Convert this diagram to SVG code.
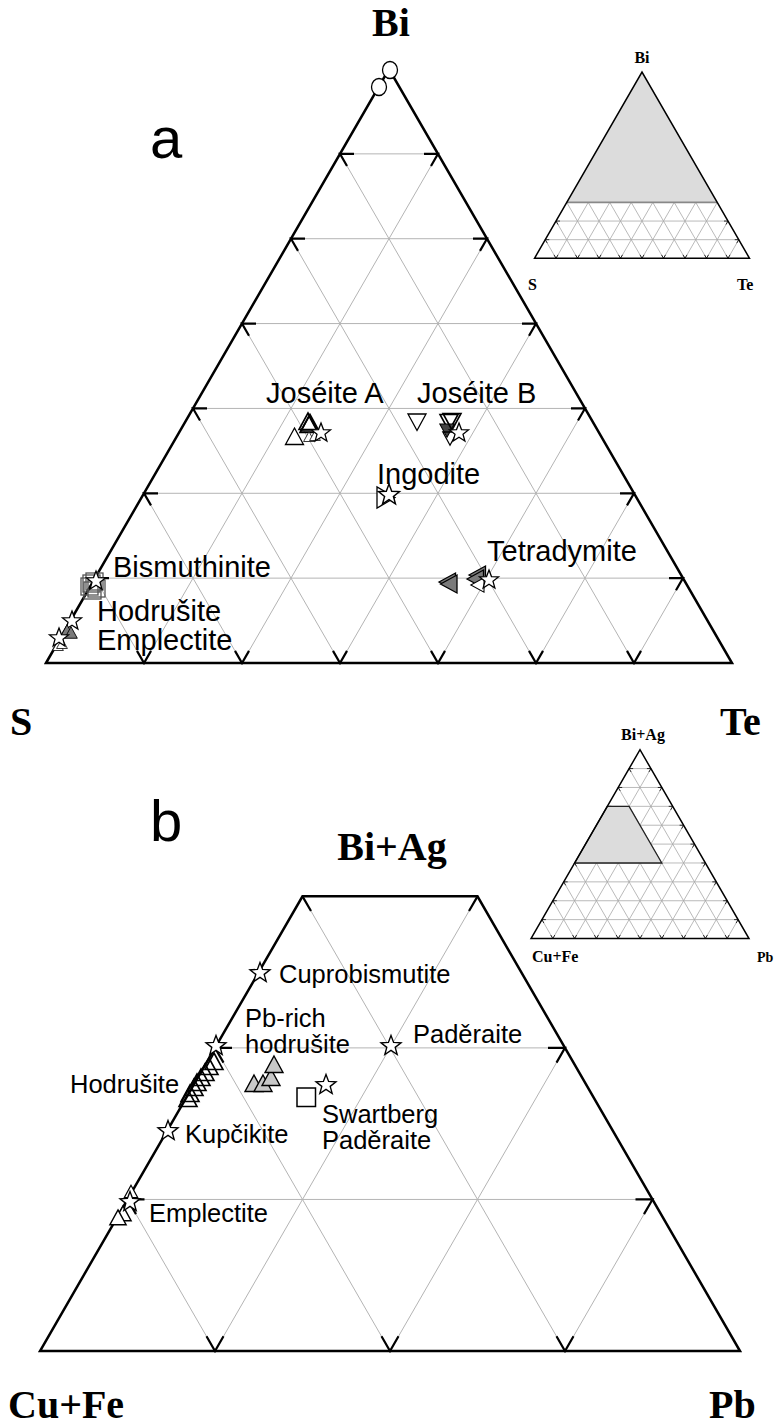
<svg xmlns="http://www.w3.org/2000/svg" xmlns:xlink="http://www.w3.org/1999/xlink" width="775" height="1426" viewBox="0 0 775 1426">
<style>
.grid{fill:none;stroke:#b4b4b4;stroke-width:1}
.tick{fill:none;stroke:#000;stroke-width:2.2;stroke-linejoin:miter}
.outline{fill:none;stroke:#000;stroke-width:2.5;stroke-linejoin:miter}
.igrid{fill:none;stroke:#a8a8a8;stroke-width:0.8}
.itick{fill:none;stroke:#000;stroke-width:0.8}
.ioutline{fill:none;stroke:#000;stroke-width:1.5}
.big{font-family:"Liberation Serif","Times New Roman",serif;font-weight:bold;font-size:40px;fill:#000}
.small{font-family:"Liberation Serif","Times New Roman",serif;font-weight:bold;font-size:16px;fill:#000}
.panel{font-family:"Liberation Sans",Arial,sans-serif;font-size:58px;fill:#000}
.la{font-family:"Liberation Sans",Arial,sans-serif;font-size:29px;fill:#000}
.lb{font-family:"Liberation Sans",Arial,sans-serif;font-size:25.5px;fill:#000}
.open{fill:#fff;stroke:#000;stroke-width:1.3}
.hollow{fill:none;stroke:#000;stroke-width:1.6}
.dark{fill:#444;stroke:#000;stroke-width:1.3}
.gray{fill:#7a7a7a;stroke:#000;stroke-width:1.3}
.lgray{fill:#c8c8c8;stroke:#000;stroke-width:1.4}
.sq{fill:none;stroke:#555;stroke-width:1.3}
.star{fill:#fff;stroke:#000;stroke-width:1.3}
</style>
<defs>
<path id="st" d="M0,-10 L2.47,-3.4 L9.51,-3.09 L4,1.3 L5.88,8.09 L0,4.2 L-5.88,8.09 L-4,1.3 L-9.51,-3.09 L-2.47,-3.4 Z"/>
<path id="tu" d="M0,-9 L9,7.5 L-9,7.5 Z"/>
<path id="td" d="M0,9 L9,-7.5 L-9,-7.5 Z"/>
<path id="tl" d="M-9,0 L7.5,-9 L7.5,9 Z"/>
</defs>

<!-- ============ Panel a ============ -->
<g id="panel-a-frame">
<path class="grid" d="M340 153.86 H438 M291 238.71 H487 M242 323.57 H536 M193 408.43 H585 M144 493.29 H634 M95 578.14 H683
M144 663 L95 578.14 M242 663 L144 493.29 M340 663 L193 408.43 M438 663 L242 323.57 M536 663 L291 238.71 M634 663 L340 153.86
M144 663 L438 153.86 M242 663 L487 238.71 M340 663 L536 323.57 M438 663 L585 408.43 M536 663 L634 493.29 M634 663 L683 578.14"/>
<path class="outline" d="M46 663 L389 69 L732 663 Z"/>
<path class="tick" d="M354 153.86 H340 L347 165.98 M305 238.71 H291 L298 250.83 M256 323.57 H242 L249 335.69 M207 408.43 H193 L200 420.55 M158 493.29 H144 L151 505.41 M109 578.14 H95 L102 590.26
M424 153.86 H438 L431 165.98 M473 238.71 H487 L480 250.83 M522 323.57 H536 L529 335.69 M571 408.43 H585 L578 420.55 M620 493.29 H634 L627 505.41 M669 578.14 H683 L676 590.26
M137 650.88 L144 663 L151 650.88 M235 650.88 L242 663 L249 650.88 M333 650.88 L340 663 L347 650.88 M431 650.88 L438 663 L445 650.88 M529 650.88 L536 663 L543 650.88 M627 650.88 L634 663 L641 650.88"/>
</g>
<text id="label-a" class="panel" x="150" y="158">a</text>
<text id="apex-Bi" class="big" x="391" y="36" text-anchor="middle">Bi</text>
<text id="corner-S" class="big" x="10" y="735">S</text>
<text id="corner-Te" class="big" x="720" y="735">Te</text>

<g id="inset-a">
<path class="igrid" d="M545.25 239.68 H738.75 M556 221.06 H728
M556 258.3 L545.25 239.68 M577.5 258.3 L556 221.06 M599 258.3 L566.75 202.44 M620.5 258.3 L577.5 183.82 M642 258.3 L588.25 165.2 M663.5 258.3 L599 146.58 M685 258.3 L609.75 127.96 M706.5 258.3 L620.5 109.34 M728 258.3 L631.25 90.72
M556 258.3 L652.75 90.72 M577.5 258.3 L663.5 109.34 M599 258.3 L674.25 127.96 M620.5 258.3 L685 146.58 M642 258.3 L695.75 165.2 M663.5 258.3 L706.5 183.82 M685 258.3 L717.25 202.44 M706.5 258.3 L728 221.06 M728 258.3 L738.75 239.68"/>
<path d="M642 72.1 L566.75 202.44 L717.25 202.44 Z" fill="#dcdcdc" stroke="none"/>
<path d="M566.75 202.44 H717.25" stroke="#888" stroke-width="1.8" fill="none"/>
<path class="itick" d="M549.25 239.68 H545.25 L547.25 243.14 M560 221.06 H556 L558 224.52 M734.75 239.68 H738.75 L736.75 243.14 M724 221.06 H728 L726 224.52
M554 254.84 L556 258.3 L558 254.84 M575.5 254.84 L577.5 258.3 L579.5 254.84 M597 254.84 L599 258.3 L601 254.84 M618.5 254.84 L620.5 258.3 L622.5 254.84 M640 254.84 L642 258.3 L644 254.84 M661.5 254.84 L663.5 258.3 L665.5 254.84 M683 254.84 L685 258.3 L687 254.84 M704.5 254.84 L706.5 258.3 L708.5 254.84 M726 254.84 L728 258.3 L730 254.84"/>
<path class="ioutline" d="M534.5 258.3 L642 72.1 L749.5 258.3 Z"/>
<text class="small" x="642" y="63" text-anchor="middle">Bi</text>
<text class="small" x="528" y="290">S</text>
<text class="small" x="737" y="290">Te</text>
</g>

<g id="data-a">
<ellipse class="open" cx="390" cy="70" rx="7.5" ry="8.5"/>
<ellipse class="open" cx="379" cy="87" rx="7.5" ry="8.5"/>
<!-- Joseite A -->
<use href="#tu" class="open" x="294.5" y="437"/>
<use href="#tu" class="hollow" x="308" y="422"/>
<use href="#tu" class="hollow" x="310" y="423.5"/>
<use href="#tu" class="hollow" x="309" y="425"/>
<use href="#tu" class="open" transform="translate(309,437) scale(0.6)"/>
<use href="#tu" class="open" transform="translate(315,436) scale(0.6)"/>
<use href="#st" class="star" x="321" y="433"/>
<!-- Joseite B -->
<use href="#td" class="open" x="417" y="421.5"/>
<use href="#td" class="hollow" x="449" y="422"/>
<use href="#td" class="dark" transform="translate(447,430) scale(0.8)"/>
<use href="#td" class="hollow" transform="translate(450,438) scale(0.8)"/>
<use href="#td" class="hollow" x="452" y="421"/>
<use href="#st" class="star" x="459" y="433"/>
<!-- Ingodite -->
<path class="open" d="M377 487 L377 508 L395 497.5 Z"/>
<use href="#st" class="star" transform="translate(389,495) scale(1.1)"/>
<!-- Tetradymite -->
<use href="#tl" class="gray" x="448" y="582"/>
<use href="#tl" class="gray" x="449.5" y="584"/>
<use href="#tl" class="gray" x="478" y="575"/>
<use href="#tl" class="gray" x="476" y="579"/>
<use href="#tl" class="open" transform="translate(478,585) scale(0.8)"/>
<use href="#st" class="star" x="489" y="580"/>
<!-- Bismuthinite -->
<rect class="sq" x="81" y="578" width="17" height="17"/>
<rect class="sq" x="83" y="575" width="17" height="17"/>
<rect class="sq" x="86" y="573" width="17" height="17"/>
<rect class="sq" x="88" y="580" width="17" height="17"/>
<rect class="sq" x="84" y="582" width="17" height="17"/>
<use href="#st" class="star" x="96" y="581"/>
<!-- Hodrusite / Emplectite -->
<use href="#st" class="star" x="72" y="621"/>
<use href="#tu" class="gray" transform="translate(67,631) scale(0.7)"/>
<use href="#tu" class="gray" transform="translate(71,633) scale(0.7)"/>
<use href="#tu" class="open" transform="translate(58,646) scale(0.6)"/>
<use href="#tu" class="open" transform="translate(62,644) scale(0.6)"/>
<use href="#st" class="star" x="59" y="638"/>
</g>

<g id="labels-a">
<text class="la" x="266" y="403">Joséite A</text>
<text class="la" x="417" y="403">Joséite B</text>
<text class="la" x="377" y="484">Ingodite</text>
<text class="la" x="487" y="561">Tetradymite</text>
<text class="la" x="113" y="577">Bismuthinite</text>
<text class="la" x="97" y="621">Hodrušite</text>
<text class="la" x="97" y="650">Emplectite</text>
</g>

<!-- ============ Panel b ============ -->
<g id="panel-b-frame">
<path class="grid" d="M127.5 1199.45 H652.5 M215 1047.9 H565
M215 1351 L127.5 1199.45 M390 1351 L215 1047.9 M565 1351 L302.5 896.35
M215 1351 L477.5 896.35 M390 1351 L565 1047.9 M565 1351 L652.5 1199.45"/>
<path class="outline" d="M40 1351 L302.5 896.35 L477.5 896.35 L740 1351 Z"/>
<path class="tick" d="M144.5 1199.45 H127.5 L136 1214.17 M232 1047.9 H215 L223.5 1062.62 M302.5 896.35 L311 911.07
M635.5 1199.45 H652.5 L644 1214.17 M548 1047.9 H565 L556.5 1062.62 M477.5 896.35 L469 911.07
M206.5 1336.28 L215 1351 L223.5 1336.28 M381.5 1336.28 L390 1351 L398.5 1336.28 M556.5 1336.28 L565 1351 L573.5 1336.28"/>
</g>
<text id="label-b" class="panel" x="150" y="841">b</text>
<text id="apex-BiAg" class="big" x="392" y="860" text-anchor="middle">Bi+Ag</text>
<text id="corner-CuFe" class="big" x="8" y="1418">Cu+Fe</text>
<text id="corner-Pb" class="big" x="709" y="1418">Pb</text>

<g id="inset-b">
<path class="igrid" d="M541.9 919.62 H738.1 M552.8 900.74 H727.2 M563.7 881.86 H716.3 M574.6 862.98 H705.4 M585.5 844.1 H694.5 M596.4 825.22 H683.6 M607.3 806.34 H672.7 M618.2 787.46 H661.8 M629.1 768.58 H650.9
M552.8 938.5 L541.9 919.62 M574.6 938.5 L552.8 900.74 M596.4 938.5 L563.7 881.86 M618.2 938.5 L574.6 862.98 M640 938.5 L585.5 844.1 M661.8 938.5 L596.4 825.22 M683.6 938.5 L607.3 806.34 M705.4 938.5 L618.2 787.46 M727.2 938.5 L629.1 768.58
M552.8 938.5 L650.9 768.58 M574.6 938.5 L661.8 787.46 M596.4 938.5 L672.7 806.34 M618.2 938.5 L683.6 825.22 M640 938.5 L694.5 844.1 M661.8 938.5 L705.4 862.98 M683.6 938.5 L716.3 881.86 M705.4 938.5 L727.2 900.74 M727.2 938.5 L738.1 919.62"/>
<path class="itick" d="M545.9 919.62 H541.9 L543.9 923.08 M556.8 900.74 H552.8 L554.8 904.2 M567.7 881.86 H563.7 L565.7 885.32 M578.6 862.98 H574.6 L576.6 866.44 M589.5 844.1 H585.5 L587.5 847.56 M600.4 825.22 H596.4 L598.4 828.68 M611.3 806.34 H607.3 L609.3 809.8 M622.2 787.46 H618.2 L620.2 790.92 M633.1 768.58 H629.1 L631.1 772.04
M734.1 919.62 H738.1 L736.1 923.08 M723.2 900.74 H727.2 L725.2 904.2 M712.3 881.86 H716.3 L714.3 885.32 M701.4 862.98 H705.4 L703.4 866.44 M690.5 844.1 H694.5 L692.5 847.56 M679.6 825.22 H683.6 L681.6 828.68 M668.7 806.34 H672.7 L670.7 809.8 M657.8 787.46 H661.8 L659.8 790.92 M646.9 768.58 H650.9 L648.9 772.04
M550.8 935.04 L552.8 938.5 L554.8 935.04 M572.6 935.04 L574.6 938.5 L576.6 935.04 M594.4 935.04 L596.4 938.5 L598.4 935.04 M616.2 935.04 L618.2 938.5 L620.2 935.04 M638 935.04 L640 938.5 L642 935.04 M659.8 935.04 L661.8 938.5 L663.8 935.04 M681.6 935.04 L683.6 938.5 L685.6 935.04 M703.4 935.04 L705.4 938.5 L707.4 935.04 M725.2 935.04 L727.2 938.5 L729.2 935.04"/>
<path d="M607.3 806.34 L629.1 806.34 L661.8 862.98 L574.6 862.98 Z" fill="#dcdcdc" stroke="#222" stroke-width="1.3"/>
<path class="ioutline" d="M531 938.5 L640 749.7 L749 938.5 Z"/>
<text class="small" x="643" y="740" text-anchor="middle">Bi+Ag</text>
<text class="small" x="532" y="962">Cu+Fe</text>
<text class="small" x="757" y="962" style="font-size:14px">Pb</text>
</g>

<g id="data-b">
<use href="#st" class="star" transform="translate(260,973) scale(1.05)"/>
<!-- Hodrusite -->
<use href="#tu" class="hollow" x="190" y="1094"/>
<use href="#tu" class="hollow" x="194" y="1088"/>
<use href="#tu" class="hollow" x="197" y="1083"/>
<use href="#tu" class="hollow" x="201" y="1078"/>
<use href="#tu" class="hollow" x="205" y="1073"/>
<use href="#tu" class="hollow" x="209" y="1067"/>
<use href="#tu" class="hollow" x="214" y="1062"/>
<use href="#tu" class="hollow" x="188" y="1099"/>
<use href="#st" class="star" transform="translate(216,1046) scale(1.05)"/>
<!-- Pb-rich hodrusite -->
<use href="#tu" class="lgray" x="254" y="1084"/>
<use href="#tu" class="lgray" x="263" y="1084"/>
<use href="#tu" class="lgray" x="271" y="1078"/>
<use href="#tu" class="lgray" x="274" y="1065"/>
<!-- Paderaite -->
<use href="#st" class="star" transform="translate(391,1046) scale(1.05)"/>
<!-- Swartberg -->
<rect class="open" x="297" y="1088" width="18.5" height="18.5" style="stroke-width:1.5"/>
<use href="#st" class="star" transform="translate(326,1085) scale(1.05)"/>
<!-- Kupcikite -->
<use href="#st" class="star" transform="translate(168,1131) scale(1.05)"/>
<!-- Emplectite -->
<use href="#tu" class="open" transform="translate(131,1192) scale(0.75)" style="stroke-width:1.6"/>
<use href="#tu" class="open" transform="translate(123,1214) scale(0.9)" style="stroke-width:1.6"/>
<use href="#tu" class="open" transform="translate(118,1218) scale(0.9)" style="stroke-width:1.6"/>
<use href="#st" class="star" transform="translate(130,1202) scale(1.05)"/>
</g>

<g id="labels-b">
<text class="lb" x="279" y="983">Cuprobismutite</text>
<text class="lb" x="245" y="1027">Pb-rich</text>
<text class="lb" x="245" y="1053">hodrušite</text>
<text class="lb" x="413" y="1043">Paděraite</text>
<text class="lb" x="70" y="1093">Hodrušite</text>
<text class="lb" x="322" y="1123">Swartberg</text>
<text class="lb" x="322" y="1149">Paděraite</text>
<text class="lb" x="185" y="1143">Kupčikite</text>
<text class="lb" x="149" y="1222">Emplectite</text>
</g>
</svg>
